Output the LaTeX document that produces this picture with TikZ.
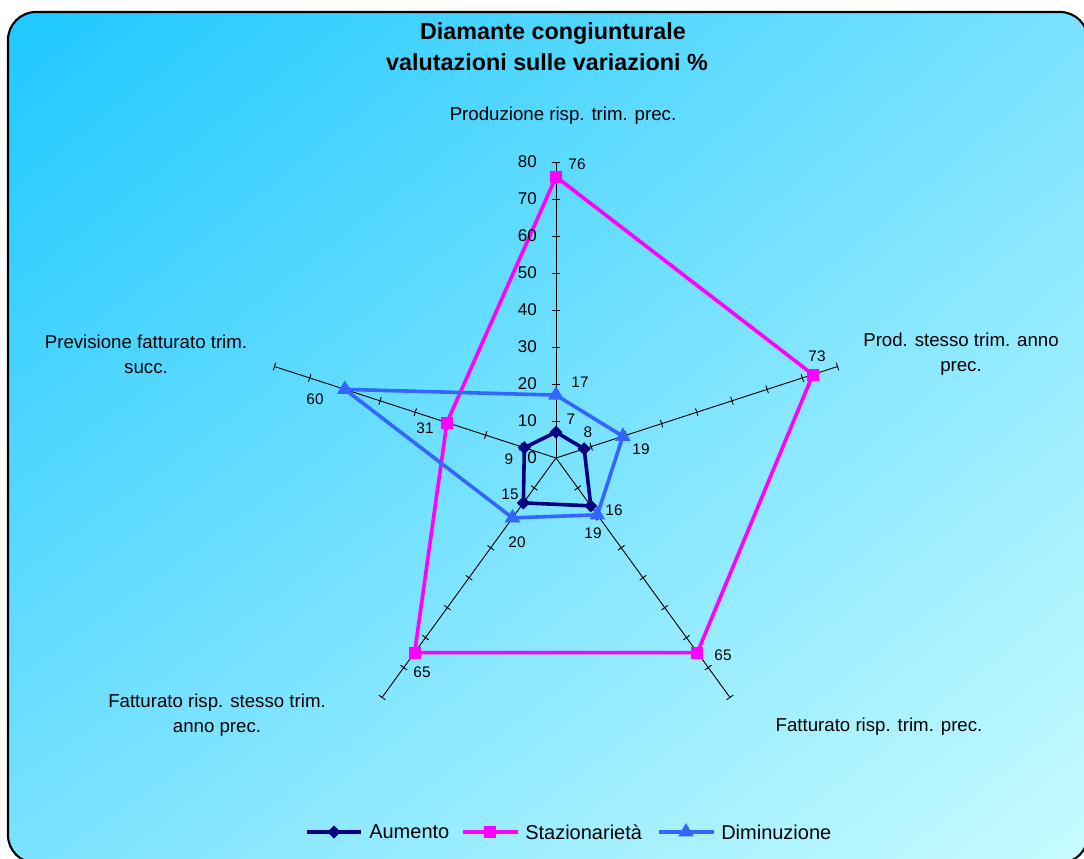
\documentclass[tikz,border=0pt]{standalone}
\usepackage{fontspec}
\setmainfont{Liberation Sans}
\usetikzlibrary{shapes.geometric,shadings}
\definecolor{navyc}{RGB}{0,0,128}
\definecolor{magc}{RGB}{255,0,255}
\definecolor{bluec}{RGB}{51,102,255}
\definecolor{bgA}{RGB}{30,200,255}
\definecolor{bgB}{RGB}{122,226,255}
\definecolor{bgC}{RGB}{200,252,255}
\begin{document}
\begin{tikzpicture}[x=0.75pt,y=0.75pt,
 axis/.style={line width=0.7pt, black},
 ser/.style={line width=2.7pt, line join=round},
 dmk/.style={diamond, fill=navyc, inner sep=0pt, minimum width=10pt, minimum height=10pt},
 smk/.style={rectangle, fill=magc, inner sep=0pt, minimum size=9pt},
 tmk/.style={regular polygon, regular polygon sides=3, fill=bluec, inner sep=0pt, minimum size=13.5pt},
 cat/.style={font=\fontsize{14}{18.75}\selectfont, align=center, inner sep=0pt},
 axn/.style={font=\fontsize{12.75}{15}\selectfont, anchor=east, inner sep=0pt},
 dl/.style={font=\fontsize{11.5}{14}\selectfont, inner sep=0pt},
 leg/.style={font=\fontsize{15}{18}\selectfont, anchor=west, inner sep=0pt},
 ttl/.style={font=\bfseries\fontsize{17.5}{21}\selectfont, inner sep=0pt}]
\useasboundingbox (0,0) rectangle (1084,859);
\fill[white] (0,0) rectangle (1084,859);
\begin{scope}
\clip (0,0) rectangle (1084,859);
\shade[rounded corners=21pt, upper left=bgA, upper right=bgB, lower left=bgB, lower right=bgC] (8,-4) rectangle (1088,847);
\draw[line width=1.6pt, rounded corners=21pt] (8,-4) rectangle (1088,847);
\end{scope}
% title
\node[ttl] (title1) at (553,825) {Diamante congiunturale};
\node[ttl] (title2) at (547,797) {valutazioni sulle variazioni \%};
% axes
\begin{scope}[shift={(556,401)}]
\coordinate (O) at (0,0);
\foreach \a/\n in {90/A,18/B,-54/C,-126/D,162/E}{
  \coordinate (ax\n) at (\a:296);
  \draw[axis] (O) -- (ax\n);
  \foreach \v in {1,...,8}{
    \draw[axis] ({\a}:{\v*37}) ++({\a+90}:4) -- ++({\a-90}:8);
  }
}
% series coordinates
\coordinate (a1) at (90:25.9);
\coordinate (a2) at (18:29.6);
\coordinate (a3) at (-54:59.2);
\coordinate (a4) at (-126:55.5);
\coordinate (a5) at (162:33.3);
\coordinate (s1) at (90:281.2);
\coordinate (s2) at (18:270.1);
\coordinate (s3) at (-54:240.5);
\coordinate (s4) at (-126:240.5);
\coordinate (s5) at (162:114.7);
\coordinate (d1) at (90:62.9);
\coordinate (d2) at (18:70.3);
\coordinate (d3) at (-54:70.3);
\coordinate (d4) at (-126:74);
\coordinate (d5) at (162:222);
\draw[ser,navyc] (a1) -- (a2) -- (a3) -- (a4) -- (a5) -- cycle;
\foreach \i in {1,...,5} \node[dmk] (ma\i) at (a\i) {};
\draw[ser,magc] (s1) -- (s2) -- (s3) -- (s4) -- (s5) -- cycle;
\foreach \i in {1,...,5} \node[smk] (ms\i) at (s\i) {};
\draw[ser,bluec] (d1) -- (d2) -- (d3) -- (d4) -- (d5) -- cycle;
\foreach \i in {1,...,5} \node[tmk] (md\i) at (d\i) {};
\end{scope}
% axis numbers
\foreach \v in {0,10,...,80}{
  \node[axn] (n\v) at (537,{401+\v*3.7}) {\v};
}
% data labels
\node[dl] (la1) at (571,440) {7};
\node[dl] (la2) at (588,427) {8};
\node[dl] (la3) at (614,349) {16};
\node[dl] (la4) at (510,365) {15};
\node[dl] (la5) at (509,400) {9};
\node[dl] (ls1) at (577,695) {76};
\node[dl] (ls2) at (817,503) {73};
\node[dl] (ls3) at (723,204) {65};
\node[dl] (ls4) at (422,187) {65};
\node[dl] (ls5) at (425,431) {31};
\node[dl] (ld1) at (580,477) {17};
\node[dl] (ld2) at (641,410) {19};
\node[dl] (ld3) at (593,326) {19};
\node[dl] (ld4) at (517,317) {20};
\node[dl] (ld5) at (315,460) {60};
% category labels
\node[cat] (c1) at (563,743) {Produzione risp. trim. prec.};
\node[cat] (c2) at (961,505) {Prod. stesso trim. anno\\prec.};
\node[cat] (c3) at (879,132) {Fatturato risp. trim. prec.};
\node[cat] (c4) at (217,144) {Fatturato risp. stesso trim.\\anno prec.};
\node[cat] (c5) at (146,505) {Previsione fatturato trim.\\succ.};
% legend
\coordinate (g1a) at (307,27); \coordinate (g1b) at (361,27);
\coordinate (g2a) at (463,27); \coordinate (g2b) at (518,27);
\coordinate (g3a) at (659,27); \coordinate (g3b) at (714,27);
\draw[ser,navyc] (g1a) -- (g1b);
\node[dmk] (gm1) at (334,27) {};
\node[leg] (gt1) at (369,27) {Aumento};
\draw[ser,magc] (g2a) -- (g2b);
\node[smk] (gm2) at (490,27) {};
\node[leg] (gt2) at (525,27) {Stazionarietà};
\draw[ser,bluec] (g3a) -- (g3b);
\node[tmk] (gm3) at (686,27) {};
\node[leg] (gt3) at (721,27) {Diminuzione};
\end{tikzpicture}
\end{document}
